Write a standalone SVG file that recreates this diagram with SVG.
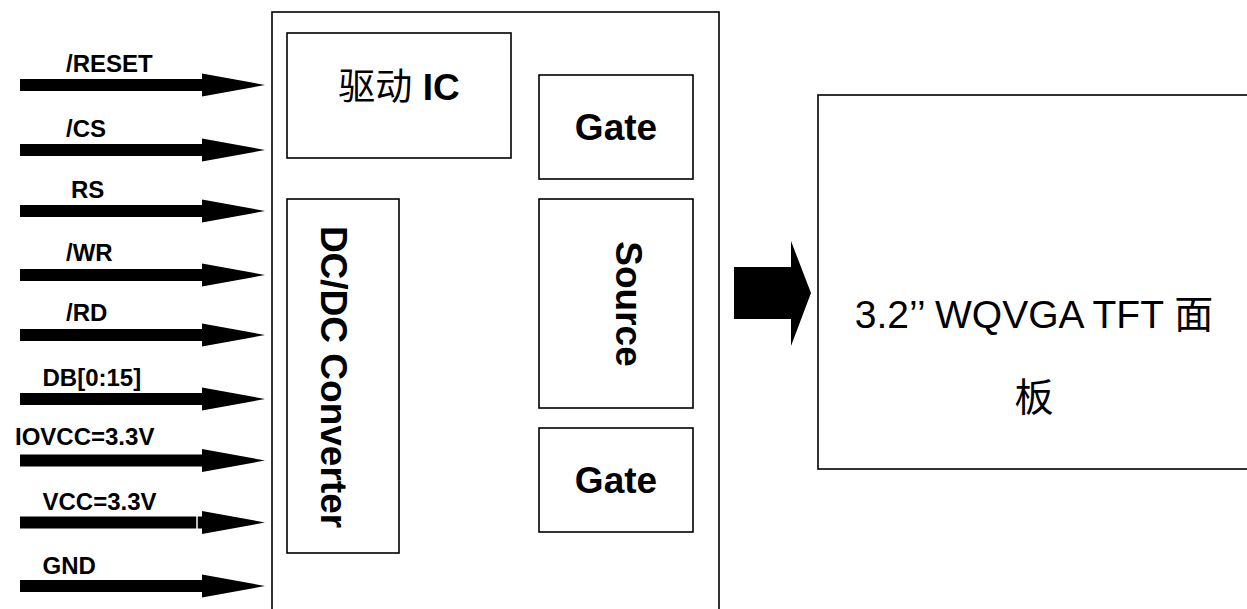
<svg xmlns="http://www.w3.org/2000/svg" xmlns:xlink="http://www.w3.org/1999/xlink" width="1247" height="609" viewBox="0 0 1247 609">
<style>
.box{fill:#fff;stroke:#000;stroke-width:1.6}
.sig{font-family:"Liberation Sans",Arial,sans-serif;font-weight:bold;font-size:24px;fill:#000}
.lbl{font-family:"Liberation Sans",Arial,"Noto Sans CJK SC",sans-serif;font-weight:bold;font-size:37px;fill:#000}
.cjk{font-family:"Liberation Sans",Arial,"Noto Sans CJK SC",sans-serif;font-size:39px;fill:#000}
.arrow{fill:#000}
</style>
<defs>
<path id="sigArrow" d="M20,-6 L202,-6 L202,-11.5 L265,0 L202,11.5 L202,6 L20,6 Z"/>
</defs>
<rect width="1247" height="609" fill="#fff"/>
<g id="driver-chip">
<rect class="box" x="272" y="12" width="447" height="610"/>
</g>
<g id="driver-ic">
<rect class="box" x="287" y="33" width="224" height="125"/>
<text x="399" y="100" text-anchor="middle" class="lbl"><tspan font-weight="normal">驱动</tspan> IC</text>
</g>
<g id="gate-top">
<rect class="box" x="539" y="75" width="154" height="104"/>
<text x="616" y="140" text-anchor="middle" class="lbl">Gate</text>
</g>
<g id="dcdc">
<rect class="box" x="287" y="199" width="112" height="354"/>
<text transform="translate(321,377) rotate(90)" x="0" y="0" text-anchor="middle" class="lbl">DC/DC Converter</text>
</g>
<g id="source">
<rect class="box" x="539" y="199" width="154" height="209"/>
<text transform="translate(616,304) rotate(90)" x="0" y="0" text-anchor="middle" class="lbl">Source</text>
</g>
<g id="gate-bottom">
<rect class="box" x="539" y="428" width="154" height="104"/>
<text x="616" y="493" text-anchor="middle" class="lbl">Gate</text>
</g>
<g id="panel">
<rect class="box" x="818" y="95" width="440" height="374"/>
<text x="1034" y="328" text-anchor="middle" class="cjk">3.2’’ WQVGA TFT 面</text>
<text x="1034" y="411" text-anchor="middle" class="cjk">板</text>
</g>
<g id="connectors">
<use xlink:href="#sigArrow" class="arrow" transform="translate(0,85)"/>
<use xlink:href="#sigArrow" class="arrow" transform="translate(0,150)"/>
<use xlink:href="#sigArrow" class="arrow" transform="translate(0,211)"/>
<use xlink:href="#sigArrow" class="arrow" transform="translate(0,275)"/>
<use xlink:href="#sigArrow" class="arrow" transform="translate(0,335)"/>
<use xlink:href="#sigArrow" class="arrow" transform="translate(0,399)"/>
<use xlink:href="#sigArrow" class="arrow" transform="translate(0,460.5)"/>
<use xlink:href="#sigArrow" class="arrow" transform="translate(0,522.5)"/>
<line x1="197" y1="515" x2="197" y2="530" stroke="#fff" stroke-width="1.5"/>
<use xlink:href="#sigArrow" class="arrow" transform="translate(0,586)"/>
<path class="arrow" d="M734,267 L791,267 L791,241 L811,293 L791,346 L791,319 L734,319 Z"/>
</g>
<g id="signal-labels">
<text x="66" y="72" class="sig">/RESET</text>
<text x="66" y="137" class="sig">/CS</text>
<text x="71" y="198" class="sig">RS</text>
<text x="66" y="261" class="sig">/WR</text>
<text x="66" y="321" class="sig">/RD</text>
<text x="42.5" y="386" class="sig">DB[0:15]</text>
<text x="15" y="445" class="sig">IOVCC=3.3V</text>
<text x="42.5" y="510" class="sig">VCC=3.3V</text>
<text x="42.5" y="574" class="sig">GND</text>
</g>
</svg>
